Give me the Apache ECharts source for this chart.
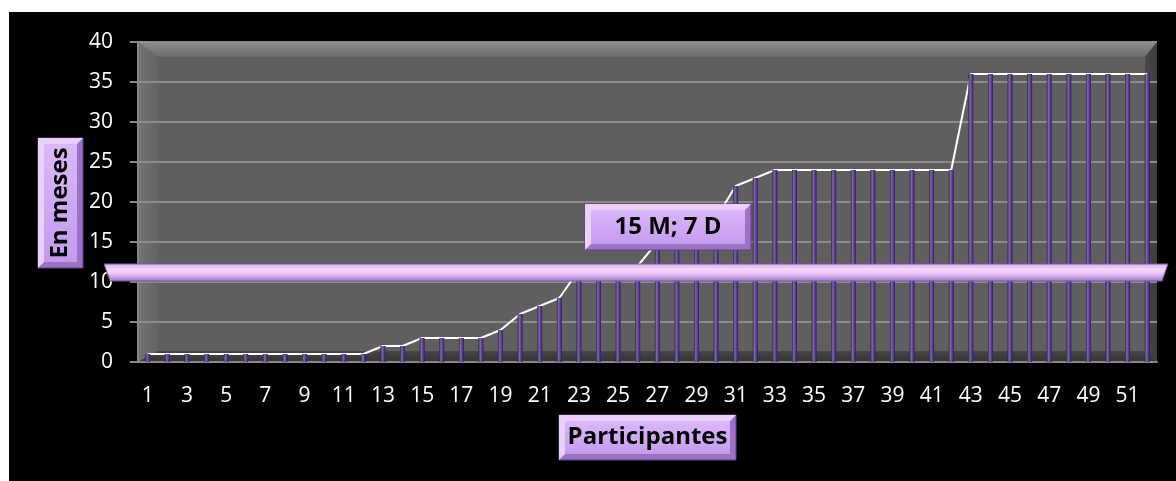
<!DOCTYPE html>
<html>
<head>
<meta charset="utf-8">
<script src="https://cdn.jsdelivr.net/npm/echarts@6/dist/echarts.min.js"></script>
<style>
  html, body { margin: 0; padding: 0; background: #ffffff; }
  #chart { width: 1176px; height: 481px; }
</style>
</head>
<body>
<div id="chart"></div>
<script>
// Participant numbers along the x axis
const participants = [
  '1','2','3','4','5','6','7','8','9','10','11','12','13','14','15','16','17','18',
  '19','20','21','22','23','24','25','26','27','28','29','30','31','32','33','34','35',
  '36','37','38','39','40','41','42','43','44','45','46','47','48','49','50','51','52'
];

// Time in months for each participant
const months = [
  1, 1, 1, 1, 1, 1, 1, 1, 1, 1, 1, 1,
  2, 2,
  3, 3, 3, 3,
  4, 6, 7, 8,
  11.5, 12, 12, 12,
  15, 16, 17, 18,
  22, 23,
  24, 24, 24, 24, 24, 24, 24, 24, 24, 24,
  36, 36, 36, 36, 36, 36, 36, 36, 36, 36
];

// Value axis range
const yMin = 0;
const yMax = 40;
const yStep = 5;

// Texts
const yTitle = 'En meses';
const xTitle = 'Participantes';
const meanText = '15 M; 7 D';

// Plot rectangle (pixels)
const P = { left: 138, top: 42, right: 1157, bottom: 362 };
const FONT = '"Open Sans", "Noto Sans", sans-serif';

const lg = (stops, horizontal) =>
  new echarts.graphic.LinearGradient(0, 0, horizontal ? 1 : 0, horizontal ? 0 : 1,
    stops.map(([offset, color]) => ({ offset, color })));

// Raised lavender box with bevelled edges and a centred caption
function bevelBox(x, y, w, h, b, text, vertical) {
  return [
    { type: 'rect', z: 10, shape: { x, y, width: w, height: h },
      style: { fill: '#9b72c6', stroke: '#5e3f83', lineWidth: 1 } },
    { type: 'polygon', z: 10, z2: 1,
      shape: { points: [[x, y], [x + w, y], [x + w - b, y + b], [x + b, y + b], [x + b, y + h - b], [x, y + h]] },
      style: { fill: '#ead0fb' } },
    { type: 'rect', z: 10, z2: 2, shape: { x: x + b, y: y + b, width: w - 2 * b, height: h - 2 * b },
      style: { fill: lg([[0, '#dbb7fb'], [1, '#c59bef']]) } },
    { type: 'text', z: 10, z2: 3, x: x + w / 2, y: y + h / 2, rotation: vertical ? Math.PI / 2 : 0,
      style: { text, fill: '#000000', font: 'bold 24px ' + FONT, align: 'center', verticalAlign: 'middle' } }
  ];
}

const chart = echarts.init(document.getElementById('chart'), null, { renderer: 'canvas' });

const decor = [
  // black chart area
  { type: 'rect', z: -5, shape: { x: 9, y: 12, width: 1167, height: 469 }, style: { fill: '#000000' } },
  // back wall
  { type: 'rect', z: -4, shape: { x: P.left, y: P.top, width: P.right - P.left, height: P.bottom - P.top },
    style: { fill: '#5f5f5f' } },
  // left edge
  { type: 'polygon', z: -3,
    shape: { points: [[P.left, P.top], [P.left + 20, P.top + 15], [P.left + 20, P.bottom - 11], [P.left, P.bottom]] },
    style: { fill: lg([[0, '#747474'], [1, '#636363']], true) } },
  // top edge
  { type: 'polygon', z: -3,
    shape: { points: [[P.left, P.top], [P.right, P.top], [P.right - 12, P.top + 15], [P.left + 20, P.top + 15]] },
    style: { fill: lg([[0, '#8e8e8e'], [1, '#6a6a6a']]) } },
  // right edge
  { type: 'polygon', z: -3,
    shape: { points: [[P.right - 12, P.top + 15], [P.right, P.top], [P.right, P.bottom], [P.right - 12, P.bottom - 11]] },
    style: { fill: lg([[0, '#4a4a4a'], [1, '#3a3a3a']], true) } },
  // floor
  { type: 'polygon', z: -3,
    shape: { points: [[P.left + 20, P.bottom - 11], [P.right - 12, P.bottom - 11], [P.right, P.bottom], [P.left, P.bottom]] },
    style: { fill: lg([[0, '#474747'], [1, '#333333']]) } }
];

// Horizontal lavender bar across the chart
const band = [
  { type: 'polygon', z: 10,
    shape: { points: [[104, 264], [1168, 264], [1162, 281], [110, 281]] },
    style: { fill: lg([[0, '#d3aef4'], [0.3, '#f5d6fc'], [0.55, '#ebc8fa'], [1, '#9f74cb']]),
             stroke: '#7a569f', lineWidth: 1 } }
];

chart.setOption({
  backgroundColor: '#ffffff',
  animation: false,
  grid: { left: P.left, top: P.top, width: P.right - P.left, height: P.bottom - P.top },
  xAxis: {
    type: 'category',
    data: participants,
    boundaryGap: true,
    z: 1,
    axisLine: { lineStyle: { color: '#878787', width: 2 } },
    axisTick: { show: false },
    axisLabel: { interval: 1, color: '#ffffff', fontFamily: FONT, fontSize: 21, margin: 24 }
  },
  yAxis: {
    type: 'value',
    min: yMin, max: yMax, interval: yStep,
    z: 1,
    axisLine: { show: true, lineStyle: { color: '#878787', width: 2 } },
    axisTick: { show: true, length: 8, lineStyle: { color: '#878787', width: 2 } },
    axisLabel: { color: '#ffffff', fontFamily: FONT, fontSize: 21, margin: 25 },
    splitLine: { lineStyle: { color: '#8c8c8c', width: 2 } }
  },
  graphic: { elements: decor.concat(band,
    bevelBox(38, 138, 45, 130, 6, yTitle, true),
    bevelBox(559, 415, 177, 45, 6, xTitle, false),
    bevelBox(585, 204, 166, 46, 6, meanText, false)) },
  series: [
    {
      type: 'line',
      data: months,
      z: 2,
      symbol: 'none',
      lineStyle: { color: '#ffffff', width: 2 }
    },
    {
      type: 'bar',
      data: months,
      z: 3,
      barWidth: 5,
      itemStyle: {
        color: lg([[0, '#34224f'], [0.35, '#8463b6'], [0.65, '#5d3f8d'], [1, '#2f1f48']], true)
      }
    }
  ]
});
</script>
</body>
</html>
